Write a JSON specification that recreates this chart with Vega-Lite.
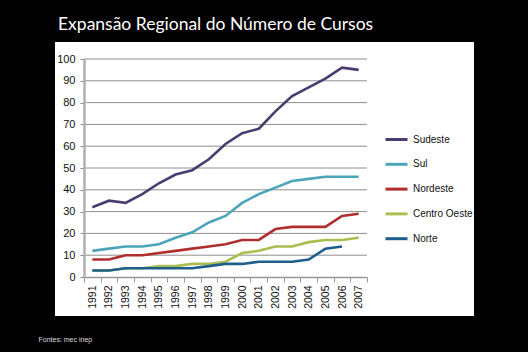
{
  "$schema": "https://vega.github.io/schema/vega-lite/v6.json",
  "width": 283,
  "height": 218,
  "autosize": {"type": "none"},
  "padding": {"left": 84, "top": 59, "right": 161, "bottom": 75},
  "background": "black",
  "title": {
    "text": "Expansão Regional do Número de Cursos",
    "anchor": "start",
    "frame": "group",
    "color": "white",
    "font": "Lato",
    "fontSize": 17.5,
    "fontWeight": "normal",
    "dx": -26,
    "dy": 20,
    "offset": 14,
    "baseline": "alphabetic"
  },
  "datasets": {
    "grid": [
      {"g": 10}, {"g": 20}, {"g": 30}, {"g": 40}, {"g": 50},
      {"g": 60}, {"g": 70}, {"g": 80}, {"g": 90}, {"g": 100}
    ],
    "cursos": [
      {"year": 1991, "region": "Sudeste", "value": 32},
      {"year": 1992, "region": "Sudeste", "value": 35},
      {"year": 1993, "region": "Sudeste", "value": 34},
      {"year": 1994, "region": "Sudeste", "value": 38},
      {"year": 1995, "region": "Sudeste", "value": 43},
      {"year": 1996, "region": "Sudeste", "value": 47},
      {"year": 1997, "region": "Sudeste", "value": 49},
      {"year": 1998, "region": "Sudeste", "value": 54},
      {"year": 1999, "region": "Sudeste", "value": 61},
      {"year": 2000, "region": "Sudeste", "value": 66},
      {"year": 2001, "region": "Sudeste", "value": 68},
      {"year": 2002, "region": "Sudeste", "value": 76},
      {"year": 2003, "region": "Sudeste", "value": 83},
      {"year": 2004, "region": "Sudeste", "value": 87},
      {"year": 2005, "region": "Sudeste", "value": 91},
      {"year": 2006, "region": "Sudeste", "value": 96},
      {"year": 2007, "region": "Sudeste", "value": 95},
      {"year": 1991, "region": "Sul", "value": 12},
      {"year": 1992, "region": "Sul", "value": 13},
      {"year": 1993, "region": "Sul", "value": 14},
      {"year": 1994, "region": "Sul", "value": 14},
      {"year": 1995, "region": "Sul", "value": 15},
      {"year": 1996, "region": "Sul", "value": 18},
      {"year": 1997, "region": "Sul", "value": 20.5},
      {"year": 1998, "region": "Sul", "value": 25},
      {"year": 1999, "region": "Sul", "value": 28},
      {"year": 2000, "region": "Sul", "value": 34},
      {"year": 2001, "region": "Sul", "value": 38},
      {"year": 2002, "region": "Sul", "value": 41},
      {"year": 2003, "region": "Sul", "value": 44},
      {"year": 2004, "region": "Sul", "value": 45},
      {"year": 2005, "region": "Sul", "value": 46},
      {"year": 2006, "region": "Sul", "value": 46},
      {"year": 2007, "region": "Sul", "value": 46},
      {"year": 1991, "region": "Nordeste", "value": 8},
      {"year": 1992, "region": "Nordeste", "value": 8},
      {"year": 1993, "region": "Nordeste", "value": 10},
      {"year": 1994, "region": "Nordeste", "value": 10},
      {"year": 1995, "region": "Nordeste", "value": 11},
      {"year": 1996, "region": "Nordeste", "value": 12},
      {"year": 1997, "region": "Nordeste", "value": 13},
      {"year": 1998, "region": "Nordeste", "value": 14},
      {"year": 1999, "region": "Nordeste", "value": 15},
      {"year": 2000, "region": "Nordeste", "value": 17},
      {"year": 2001, "region": "Nordeste", "value": 17},
      {"year": 2002, "region": "Nordeste", "value": 22},
      {"year": 2003, "region": "Nordeste", "value": 23},
      {"year": 2004, "region": "Nordeste", "value": 23},
      {"year": 2005, "region": "Nordeste", "value": 23},
      {"year": 2006, "region": "Nordeste", "value": 28},
      {"year": 2007, "region": "Nordeste", "value": 29},
      {"year": 1991, "region": "Centro Oeste", "value": 3},
      {"year": 1992, "region": "Centro Oeste", "value": 3},
      {"year": 1993, "region": "Centro Oeste", "value": 4},
      {"year": 1994, "region": "Centro Oeste", "value": 4},
      {"year": 1995, "region": "Centro Oeste", "value": 5},
      {"year": 1996, "region": "Centro Oeste", "value": 5},
      {"year": 1997, "region": "Centro Oeste", "value": 6},
      {"year": 1998, "region": "Centro Oeste", "value": 6},
      {"year": 1999, "region": "Centro Oeste", "value": 7},
      {"year": 2000, "region": "Centro Oeste", "value": 11},
      {"year": 2001, "region": "Centro Oeste", "value": 12},
      {"year": 2002, "region": "Centro Oeste", "value": 14},
      {"year": 2003, "region": "Centro Oeste", "value": 14},
      {"year": 2004, "region": "Centro Oeste", "value": 16},
      {"year": 2005, "region": "Centro Oeste", "value": 17},
      {"year": 2006, "region": "Centro Oeste", "value": 17},
      {"year": 2007, "region": "Centro Oeste", "value": 18},
      {"year": 1991, "region": "Norte", "value": 3},
      {"year": 1992, "region": "Norte", "value": 3},
      {"year": 1993, "region": "Norte", "value": 4},
      {"year": 1994, "region": "Norte", "value": 4},
      {"year": 1995, "region": "Norte", "value": 4},
      {"year": 1996, "region": "Norte", "value": 4},
      {"year": 1997, "region": "Norte", "value": 4},
      {"year": 1998, "region": "Norte", "value": 5},
      {"year": 1999, "region": "Norte", "value": 6},
      {"year": 2000, "region": "Norte", "value": 6},
      {"year": 2001, "region": "Norte", "value": 7},
      {"year": 2002, "region": "Norte", "value": 7},
      {"year": 2003, "region": "Norte", "value": 7},
      {"year": 2004, "region": "Norte", "value": 8},
      {"year": 2005, "region": "Norte", "value": 13},
      {"year": 2006, "region": "Norte", "value": 14}
    ]
  },
  "layer": [
    {
      "data": {"values": [{"panel": "fundo"}]},
      "mark": {"type": "rect", "color": "white", "clip": false},
      "encoding": {
        "x": {"datum": -0.1025, "type": "quantitative", "scale": {"domain": [0, 1]}, "axis": null},
        "x2": {"datum": 1.378},
        "y": {"datum": -0.179, "type": "quantitative", "scale": {"domain": [0, 1]}, "axis": null},
        "y2": {"datum": 1.078}
      }
    },
    {
      "data": {"name": "grid"},
      "mark": {"type": "rule", "color": "#8f8f8f", "strokeWidth": 1},
      "encoding": {
        "y": {"field": "g", "type": "quantitative", "scale": {"domain": [0, 100], "nice": false}, "axis": null}
      }
    },
    {
      "data": {"name": "cursos"},
      "mark": {"type": "line", "strokeWidth": 2.6},
      "encoding": {
        "x": {
          "field": "year",
          "type": "ordinal",
          "bandPosition": 0.5,
          "scale": {"type": "band", "paddingInner": 0, "paddingOuter": 0},
          "axis": {
            "orient": "bottom",
            "tickBand": "extent",
            "labelAngle": 270,
            "zindex": 1,
            "domainColor": "#999999",
            "domainWidth": 1.5,
            "tickColor": "#999999",
            "tickSize": 5,
            "labelPadding": 3,
            "labelFont": "'Liberation Sans Narrow', 'Arial Narrow', 'Liberation Sans', sans-serif",
            "labelFontSize": 10.5,
            "labelColor": "#111111",
            "title": "Fontes: mec inep",
            "titleColor": "#dddddd",
            "titleFont": "Liberation Sans",
            "titleFontSize": 7,
            "titleFontWeight": "normal",
            "titleAnchor": "start",
            "titleAlign": "left",
            "titleX": -46,
            "titleY": 64,
            "titleBaseline": "alphabetic"
          }
        },
        "y": {
          "field": "value",
          "type": "quantitative",
          "scale": {"domain": [0, 100], "nice": false},
          "axis": {
            "orient": "left",
            "values": [0, 10, 20, 30, 40, 50, 60, 70, 80, 90, 100],
            "grid": false,
            "zindex": 1,
            "domainColor": "#b0b0b0",
            "domainWidth": 2.5,
            "tickColor": "#888888",
            "tickSize": 4,
            "labelPadding": 5,
            "labelFont": "'Liberation Sans Narrow', 'Arial Narrow', 'Liberation Sans', sans-serif",
            "labelFontSize": 11,
            "labelColor": "#111111",
            "title": null
          }
        },
        "color": {
          "field": "region",
          "type": "nominal",
          "scale": {
            "domain": ["Sudeste", "Sul", "Nordeste", "Centro Oeste", "Norte"],
            "range": ["#4a3d6f", "#4aa5b8", "#b02e2e", "#a9be50", "#1f5e8c"]
          },
          "legend": {
            "orient": "none",
            "legendX": 300,
            "legendY": 68,
            "title": null,
            "symbolType": "stroke",
            "symbolSize": 484,
            "symbolStrokeWidth": 3,
            "labelFont": "'Liberation Sans Narrow', 'Arial Narrow', 'Liberation Sans', sans-serif",
            "labelFontSize": 10,
            "labelColor": "#111111",
            "rowPadding": 5.8,
            "labelOffset": 4
          }
        }
      }
    }
  ],
  "resolve": {"scale": {"x": "independent", "y": "independent"}},
  "config": {"view": {"stroke": null}}
}
